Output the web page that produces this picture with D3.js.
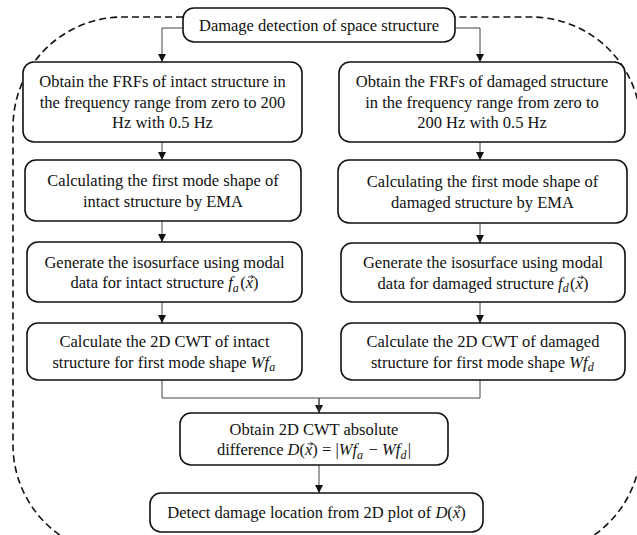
<!DOCTYPE html>
<html>
<head>
<meta charset="utf-8">
<script src="https://cdn.jsdelivr.net/npm/d3@7"></script>
<style>
  body { margin: 0; background: #fff; }
  svg { display: block; }
</style>
</head>
<body>
<svg id="flow" width="637" height="535"></svg>
<script>
// node ids and their text lines ($...$ marks a math run, _ makes a subscript, ~ is a vector x)
const nodeIds = ["top", "L1", "R1", "L2", "R2", "L3", "R3", "L4", "R4", "M", "B"];
const nodeLines = [
  ["Damage detection of space structure"],
  ["Obtain the FRFs of intact structure in", "the frequency range from zero to 200", "Hz with 0.5 Hz"],
  ["Obtain the FRFs of damaged structure", "in the frequency range from zero to", "200 Hz with 0.5 Hz"],
  ["Calculating the first mode shape of", "intact structure by EMA"],
  ["Calculating the first mode shape of", "damaged structure by EMA"],
  ["Generate the isosurface using modal", "data for intact structure $f_a(~)$"],
  ["Generate the isosurface using modal", "data for damaged structure $f_d(~)$"],
  ["Calculate the 2D CWT of intact", "structure for first mode shape $Wf_a$"],
  ["Calculate the 2D CWT of damaged", "structure for first mode shape $Wf_d$"],
  ["Obtain 2D CWT absolute", "difference $D(~) = |Wf_a \u2212 Wf_d|$"],
  ["Detect damage location from 2D plot of $D(~)$"]
];
// arrows between nodes
const links = [["top", "L1"], ["top", "R1"], ["L1", "L2"], ["R1", "R2"], ["L2", "L3"], ["R2", "R3"],
  ["L3", "L4"], ["R3", "R4"], ["L4", "M"], ["R4", "M"], ["M", "B"]];

// layout (pixels)
const boxes = {
  top: { x0: 183, x1: 455, y0: 8, y1: 42 },
  L1: { x0: 23, x1: 302, y0: 62, y1: 142 },
  R1: { x0: 339, x1: 625, y0: 62, y1: 142 },
  L2: { x0: 25, x1: 301, y0: 160, y1: 221 },
  R2: { x0: 338, x1: 627, y0: 160, y1: 223 },
  L3: { x0: 27, x1: 302, y0: 242, y1: 302 },
  R3: { x0: 341, x1: 625, y0: 243, y1: 302 },
  L4: { x0: 27, x1: 302, y0: 323, y1: 380 },
  R4: { x0: 341, x1: 625, y0: 323, y1: 380 },
  M: { x0: 180, x1: 448, y0: 413, y1: 465 },
  B: { x0: 150, x1: 483, y0: 493, y1: 532 }
};
const colX = { L: 162, R: 480, M: 319 };
const lineH = 20.5;
const fontSize = 16.5;
const font = "Liberation Serif, serif";

const svg = d3.select("#flow");

svg.append("defs").append("marker")
  .attr("id", "arr")
  .attr("viewBox", "0 0 10 10")
  .attr("refX", 10).attr("refY", 5)
  .attr("markerWidth", 9).attr("markerHeight", 8)
  .attr("markerUnits", "userSpaceOnUse")
  .attr("orient", "auto")
  .append("path").attr("d", "M0,0L10,5L0,10Z").attr("fill", "#111");

// dashed outer rounded frame
const fr = { x0: 13, x1: 641, y0: 17, y1: 555, r: 110 };
const framePath = d3.path();
framePath.moveTo(boxes.top.x0, fr.y0);
framePath.lineTo(fr.x0 + fr.r, fr.y0);
framePath.arcTo(fr.x0, fr.y0, fr.x0, fr.y0 + fr.r, fr.r);
framePath.lineTo(fr.x0, fr.y1 - fr.r);
framePath.arcTo(fr.x0, fr.y1, fr.x0 + fr.r, fr.y1, fr.r);
framePath.lineTo(fr.x1 - fr.r, fr.y1);
framePath.arcTo(fr.x1, fr.y1, fr.x1, fr.y1 - fr.r, fr.r);
framePath.lineTo(fr.x1, fr.y0 + fr.r);
framePath.arcTo(fr.x1, fr.y0, fr.x1 - fr.r, fr.y0, fr.r);
framePath.lineTo(boxes.top.x1, fr.y0);
svg.append("path")
  .attr("d", framePath.toString())
  .attr("fill", "none")
  .attr("stroke", "#111")
  .attr("stroke-width", 1.6)
  .attr("stroke-dasharray", "7,4");

// connectors
function linkPath(a, b) {
  const A = boxes[a], B = boxes[b];
  const p = d3.path();
  if (a === "top") {
    const side = b[0];
    const ex = side === "L" ? A.x0 : A.x1;
    p.moveTo(ex, 28); p.lineTo(colX[side], 28); p.lineTo(colX[side], B.y0);
  } else if (b === "M") {
    const mergeY = 398;
    const x = colX[a[0]];
    p.moveTo(x, A.y1); p.lineTo(x, mergeY); p.lineTo(colX.M, mergeY); p.lineTo(colX.M, B.y0);
  } else {
    const x = colX[a[0]];
    p.moveTo(x, A.y1); p.lineTo(x, B.y0);
  }
  return p.toString();
}
svg.append("g").selectAll("path")
  .data(links)
  .join("path")
  .attr("d", d => linkPath(d[0], d[1]))
  .attr("fill", "none")
  .attr("stroke", "#444")
  .attr("stroke-width", 1)
  .attr("marker-end", d => d[0] === "R4" ? null : "url(#arr)");

// boxes
const nodes = nodeIds.map((id, i) => ({ id, lines: nodeLines[i], ...boxes[id] }));
const g = svg.append("g").selectAll("g").data(nodes).join("g");
g.append("rect")
  .attr("x", d => d.x0).attr("y", d => d.y0)
  .attr("width", d => d.x1 - d.x0).attr("height", d => d.y1 - d.y0)
  .attr("rx", 11).attr("ry", 11)
  .attr("fill", "#fff")
  .attr("stroke", "#111")
  .attr("stroke-width", 1.6);

// text with small math markup; returns char indices of vector x's
function addRuns(text, line) {
  let idx = 0;
  const vecs = [];
  const put = (s, opts = {}) => {
    const t = text.append("tspan").text(s);
    if (opts.italic) t.style("font-style", "italic");
    if (opts.size) t.style("font-size", opts.size + "px");
    if (opts.dy) t.attr("dy", opts.dy);
    idx += s.length;
    return t;
  };
  line.split("$").forEach((seg, k) => {
    if (k % 2 === 0) { put(seg); return; }
    for (let i = 0; i < seg.length; i++) {
      const c = seg[i];
      if (c === "_") {
        put(seg[i + 1], { italic: true, size: 12, dy: 3.5 });
        put("\u200A", { dy: -3.5 });
        i++;
      } else if (c === "~") {
        vecs.push(idx);
        put("x", { italic: true });
      } else if (/[A-Za-z]/.test(c)) {
        put(c, { italic: true });
      } else if (c === " ") {
        put("\u00A0");
      } else {
        put(c);
      }
    }
  });
  return vecs;
}

g.each(function (d) {
  const sel = d3.select(this);
  const cx = (d.x0 + d.x1) / 2;
  const cy = (d.y0 + d.y1) / 2;
  const n = d.lines.length;
  d.lines.forEach((line, i) => {
    const t = sel.append("text")
      .attr("x", cx)
      .attr("y", cy + (i - (n - 1) / 2) * lineH)
      .attr("dy", "0.35em")
      .attr("text-anchor", "middle")
      .style("font-family", font)
      .style("font-size", fontSize + "px")
      .attr("fill", "#111");
    const vecs = addRuns(t, line);
    // little arrow over each vector x
    vecs.forEach(ci => {
      const b = t.node().getExtentOfChar(ci);
      const x0 = b.x + 2.5, x1 = b.x + b.width + 0.5, y = b.y + b.height * 0.2;
      sel.append("path")
        .attr("d", `M${x0},${y}H${x1}M${x1 - 2.4},${y - 1.7}L${x1},${y}L${x1 - 2.4},${y + 1.7}`)
        .attr("fill", "none").attr("stroke", "#111").attr("stroke-width", 0.8);
    });
  });
});
</script>
</body>
</html>
